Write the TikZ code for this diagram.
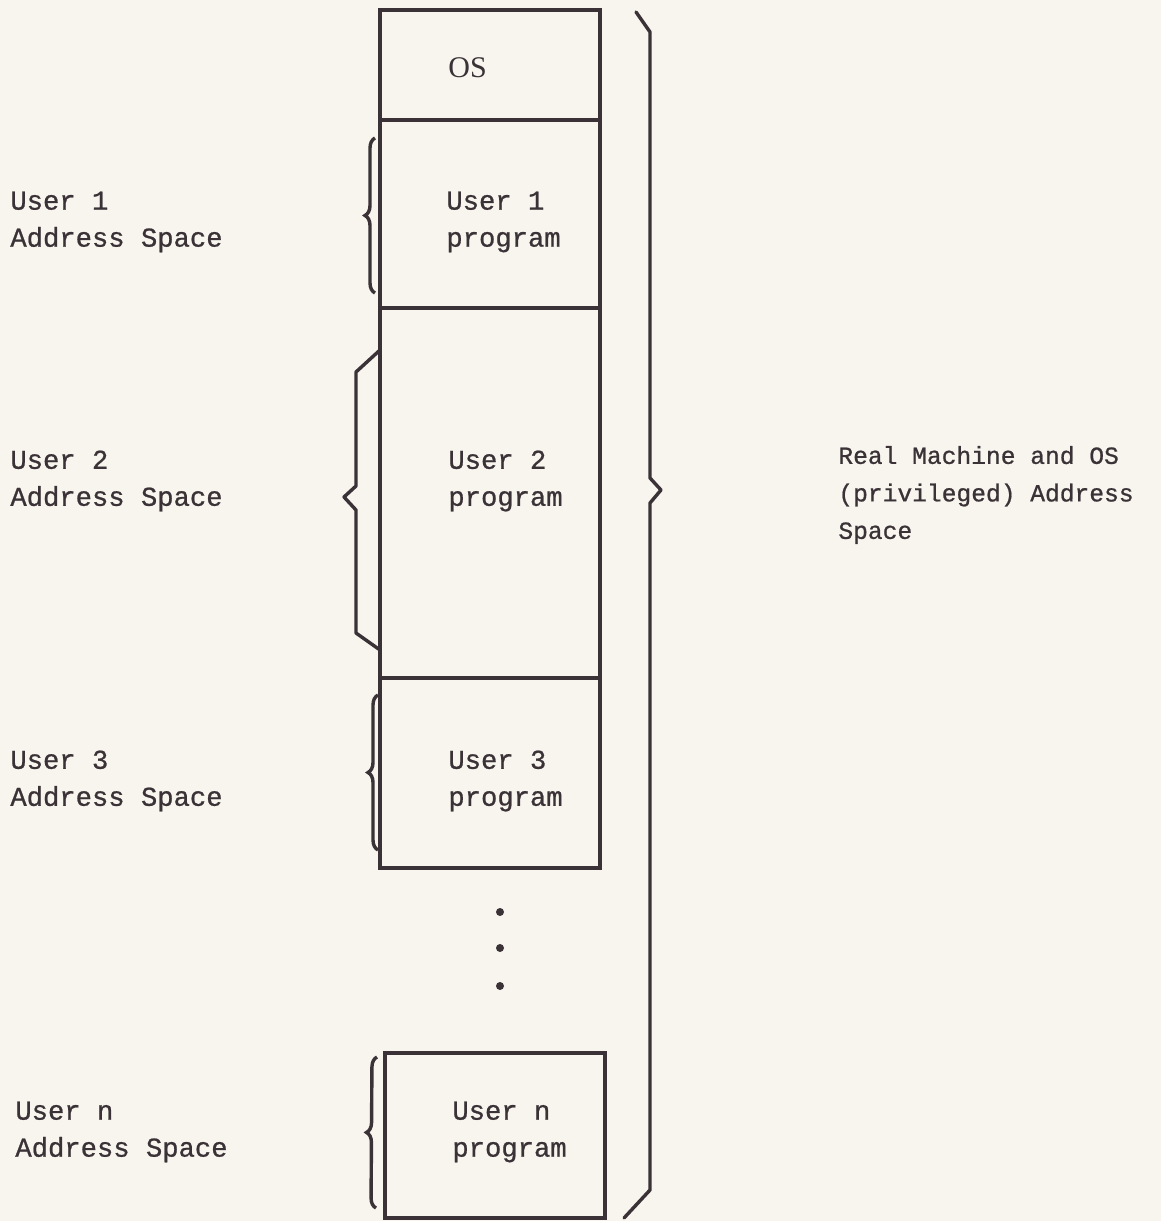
\documentclass[tikz,border=0pt]{standalone}
\usepackage{fontspec}
\setmainfont[FakeBold=0.8]{Liberation Mono}
\newfontfamily\osfont{Liberation Serif}
\usetikzlibrary{decorations.pathreplacing}
\definecolor{paper}{RGB}{247,245,238}
\definecolor{ink}{RGB}{58,50,54}
\tikzset{
	slot/.style={draw=ink, line width=2pt, anchor=north west, minimum width=110pt, inner sep=0pt, outer sep=0pt},
	lbl/.style={anchor=west, align=left, text=ink, inner sep=0pt, font=\fontsize{13.6}{18.5}\selectfont},
	curly/.style={draw=ink, line width=1.7pt, decorate, decoration={brace, amplitude=5pt}},
	sharp/.style={draw=ink, line width=1.7pt, line join=round, line cap=round}
}
\begin{document}
\begin{tikzpicture}[x=0.5pt, y=-0.5pt]
		\fill[paper] (0,0) rectangle (1161,1221);
		\useasboundingbox (0,0) rectangle (1161,1221);
		% memory column
		\draw
		node[slot, minimum height=55pt] at (380,10) (os) {}
		node[slot, minimum height=94pt] at (380,120) (p1) {}
		node[slot, minimum height=185pt] at (380,308) (p2) {}
		node[slot, minimum height=95pt] at (380,678) (p3) {}
		node[slot, minimum height=82.5pt] at (385,1053) (pn) {};
		% texts in the column
		\draw
		node[lbl, font=\osfont\fontsize{15}{18.5}\selectfont] at (448,68) (ost) {OS}
		node[lbl] at (446,222) (p1t) {User 1\\program}
		node[lbl] at (448,481) (p2t) {User 2\\program}
		node[lbl] at (448,781) (p3t) {User 3\\program}
		node[lbl] at (452,1132) (pnt) {User n\\program};
		% user address spaces
		\draw
		node[lbl] at (10,222) (u1) {User 1\\Address Space}
		node[lbl] at (10,481) (u2) {User 2\\Address Space}
		node[lbl] at (10,781) (u3) {User 3\\Address Space}
		node[lbl] at (15,1132) (un) {User n\\Address Space}
		node[lbl, font=\fontsize{12.3}{18.75}\selectfont] at (838,495) (real) {Real Machine and OS\\(privileged) Address\\Space};
		% dots
		\foreach \i/\y in {1/912, 2/948, 3/986}
			\fill[ink] (500,\y) circle (2pt) coordinate (dot\i);
		% small braces
		\coordinate (b1a) at (375,293);
		\coordinate (b1b) at (375,138);
		\coordinate (b3a) at (378,850);
		\coordinate (b3b) at (378,695);
		\coordinate (bna) at (376,1208);
		\coordinate (bnb) at (377,1057);
		\draw[curly] (b1a) -- (b1b);
		\draw[curly] (b3a) -- (b3b);
		\draw[curly] (bna) -- (bnb);
		% user 2 brace
		\draw[sharp] (380,350) -- (356,372) -- (356,486) -- (344,497) -- (356,510) -- (356,633) -- (380,650);
		% big brace
		\draw[sharp] (636,12) -- (650,32) -- (650,478) -- (661,490) -- (650,503) -- (650,1190) -- (624,1218);
	\end{tikzpicture}
\end{document}
